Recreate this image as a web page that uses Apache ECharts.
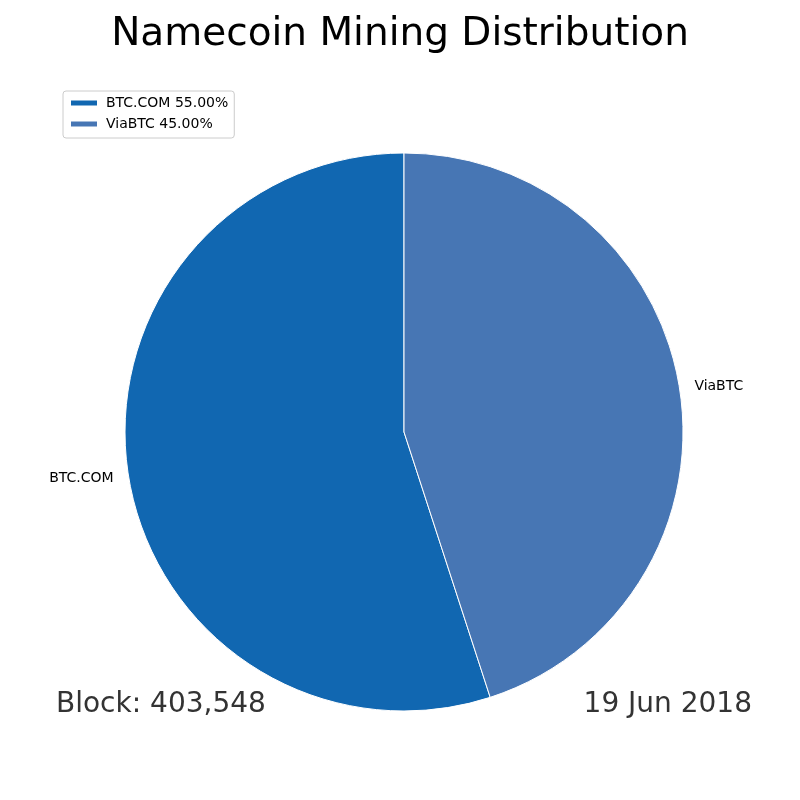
<!DOCTYPE html>
<html>
<head>
<meta charset="utf-8">
<script src="https://cdn.jsdelivr.net/npm/echarts@6/dist/echarts.min.js"></script>
<style>html,body{margin:0;padding:0;background:#fff}#c{width:800px;height:800px}</style>
</head>
<body>
<div id="c"></div>
<script>
const categories = ['BTC.COM', 'ViaBTC'];
const values = [55, 45];
const colors = ['#1167b1', '#4776b4'];
const titleText = 'Namecoin Mining Distribution';
const blockText = 'Block: 403,548';
const dateText = '19 Jun 2018';

const chart = echarts.init(document.getElementById('c'));
const total = values.reduce((a, b) => a + b, 0);
chart.setOption({
  animation: false,
  backgroundColor: '#fff',
  textStyle: { fontFamily: 'DejaVu Sans' },
  title: {
    text: titleText, left: 'center', top: 10,
    textStyle: { fontFamily: 'DejaVu Sans', fontSize: 39, fontWeight: 'normal', color: '#000' }
  },
  legend: {
    orient: 'vertical', left: 63, top: 91,
    data: categories,
    itemWidth: 28, itemHeight: 7, itemGap: 7,
    padding: [5, 6, 7, 6],
    borderColor: '#ccc', borderWidth: 1, borderRadius: 3,
    icon: 'rect',
    formatter: name => {
      const i = categories.indexOf(name);
      return name + ' ' + (values[i] / total * 100).toFixed(2) + '%';
    },
    textStyle: { fontFamily: 'DejaVu Sans', fontSize: 14, color: '#000', padding: [0, 0, 0, 3] }
  },
  series: [{
    type: 'pie',
    center: [404, 432],
    radius: [0, 279],
    startAngle: 90,
    clockwise: false,
    avoidLabelOverlap: false,
    itemStyle: { borderColor: '#fff', borderWidth: 1 },
    label: { show: true, position: 'outside', fontFamily: 'DejaVu Sans', fontSize: 14, color: '#000', distanceToLabelLine: 0 },
    labelLine: { show: false, length: 15, length2: 0 },
    emphasis: { disabled: true },
    data: categories.map((n, i) => ({ name: n, value: values[i], itemStyle: { color: colors[i] } }))
  }],
  graphic: [
    { type: 'text', left: 56, top: 691, style: { text: blockText, font: '28px "DejaVu Sans"', fill: '#333' } },
    { type: 'text', right: 48, top: 691, style: { text: dateText, font: '28px "DejaVu Sans"', fill: '#333' } }
  ]
});
</script>
</body>
</html>
